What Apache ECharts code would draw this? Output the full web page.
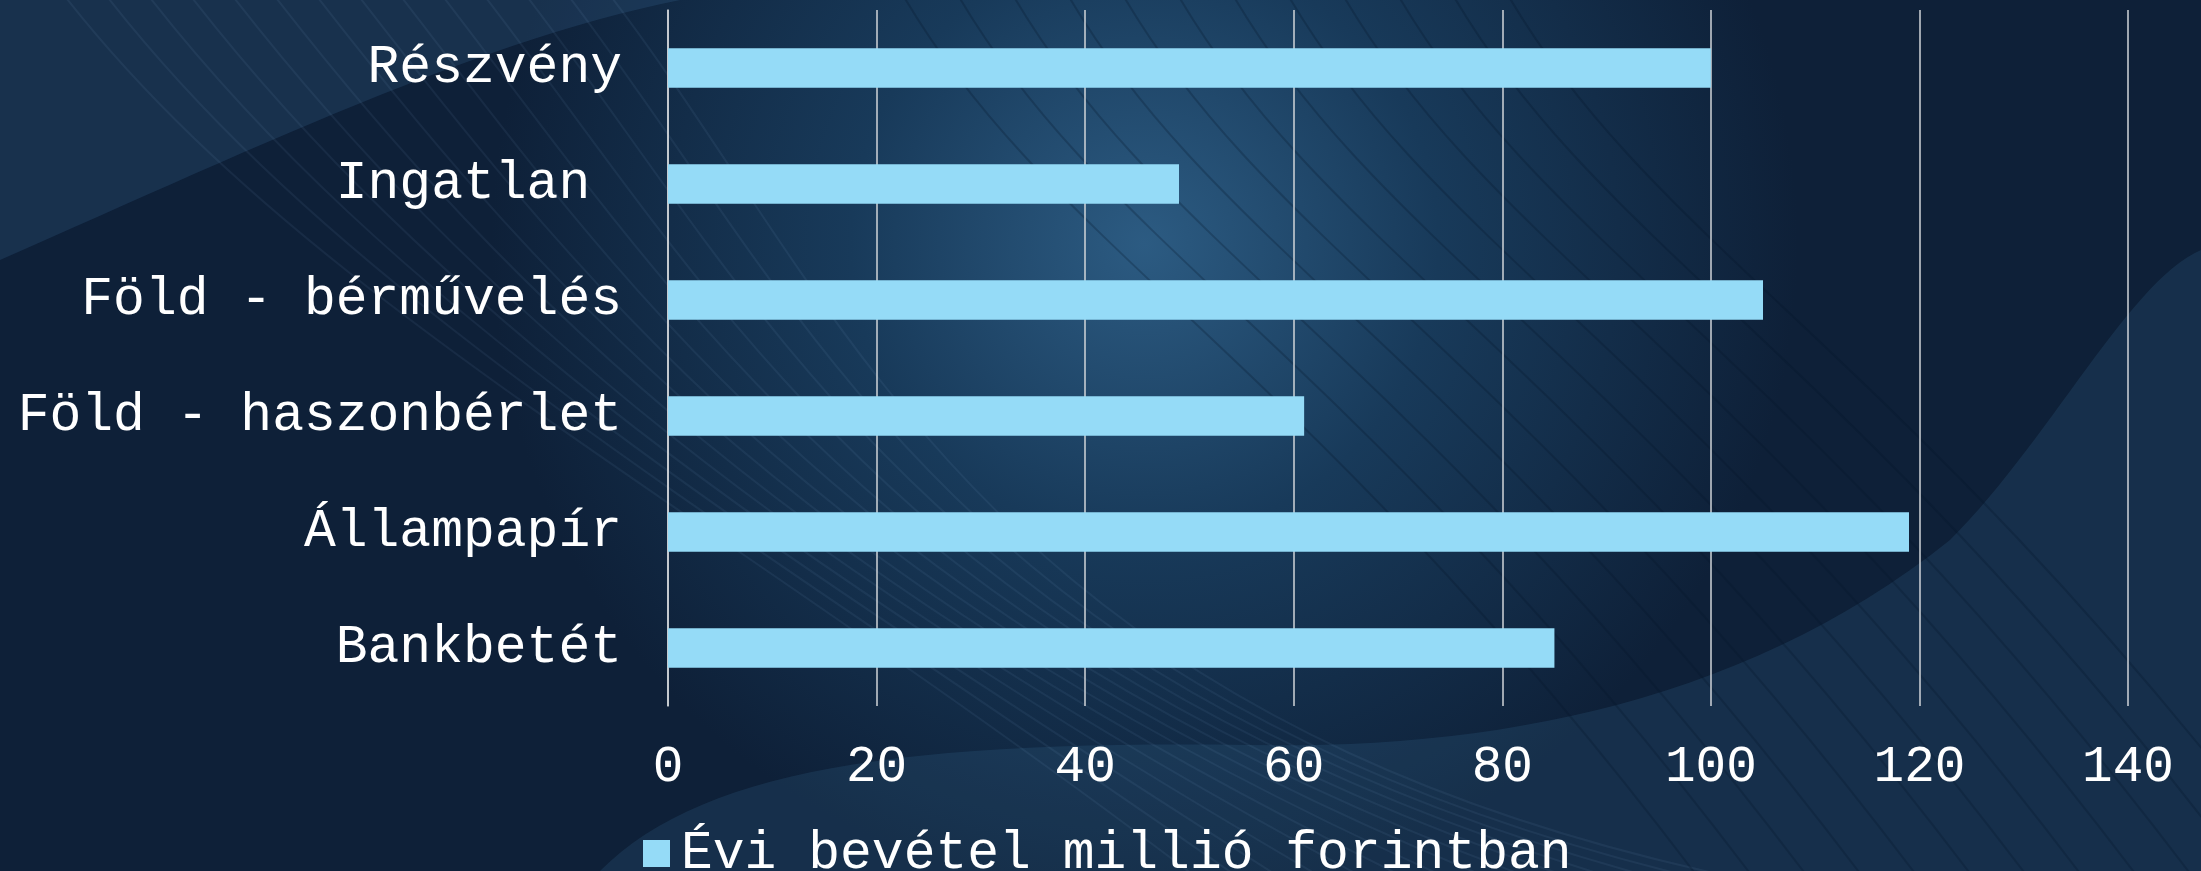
<!DOCTYPE html>
<html><head><meta charset="utf-8">
<script src="https://cdn.jsdelivr.net/npm/echarts@6/dist/echarts.min.js"></script>
<style>html,body{margin:0;padding:0;background:#10253d;}#c{width:2201px;height:871px;}</style>
</head><body><div id="c"></div>
<script>
const categories = ['Részvény', 'Ingatlan ', 'Föld - bérművelés', 'Föld - haszonbérlet', 'Állampapír', 'Bankbetét'];
const values = [100, 49, 105, 61, 119, 85];
const seriesName = 'Évi bevétel millió forintban';
const xTicks = { min: 0, max: 140, interval: 20 };

const chart = echarts.init(document.getElementById('c'), null, { renderer: 'canvas' });
const FONT = '"Liberation Mono", "Courier New", monospace';

// sample cubic bezier segments into polygon points (decorative background only)
function sampleCubic(p0, p1, p2, p3, n) {
  const pts = [];
  for (let i = 0; i <= n; i++) {
    const t = i / n, u = 1 - t;
    pts.push([
      u*u*u*p0[0] + 3*u*u*t*p1[0] + 3*u*t*t*p2[0] + t*t*t*p3[0],
      u*u*u*p0[1] + 3*u*u*t*p1[1] + 3*u*t*t*p2[1] + t*t*t*p3[1]
    ]);
  }
  return pts;
}
const topLeftShape = [[0,0],[680,0]].concat(sampleCubic([680,0],[480,40],[250,150],[0,260],30));
const bottomShape = sampleCubic([600,871],[700,770],[900,740],[1250,745],30)
  .concat(sampleCubic([1250,745],[1500,750],[1750,700],[1950,540],30))
  .concat(sampleCubic([1950,540],[2050,440],[2130,280],[2201,250],30))
  .concat([[2201,871]]);

const deco = [
  { type: 'polygon', silent: true, z: -10, shape: { points: topLeftShape }, style: { fill: 'rgba(70,130,175,0.18)' } },
  { type: 'polygon', silent: true, z: -10, shape: { points: bottomShape }, style: { fill: 'rgba(70,130,175,0.16)' } }
];
for (let i = 0; i < 14; i++) {
  const o = i * 42;
  deco.push({
    type: 'bezierCurve', silent: true, z: -9,
    shape: { x1: 60 + o, y1: -10, cpx1: 300 + o, cpy1: 300, cpx2: 700 + o * 0.5, cpy2: 500 + o * 0.4, x2: 1200 + o, y2: 880 },
    style: { stroke: 'rgba(160,200,235,0.07)', lineWidth: 2, fill: null }
  });
}
for (let i = 0; i < 12; i++) {
  const o = i * 55;
  deco.push({
    type: 'bezierCurve', silent: true, z: -9,
    shape: { x1: 900 + o, y1: -10, cpx1: 1050 + o, cpy1: 250, cpx2: 1300 + o, cpy2: 350, x2: 1700 + o, y2: 880 },
    style: { stroke: 'rgba(5,20,40,0.25)', lineWidth: 2, fill: null }
  });
}

chart.setOption({
  backgroundColor: {
    type: 'radial', x: 0.52, y: 0.28, r: 0.75,
    colorStops: [
      { offset: 0, color: '#2c5b82' },
      { offset: 0.45, color: '#183a5a' },
      { offset: 1, color: '#0e2038' }
    ]
  },
  graphic: deco,
  textStyle: { fontFamily: FONT },
  grid: { left: 668, right: 73, top: 10, bottom: 165, containLabel: false },
  legend: {
    data: [seriesName],
    left: 638, top: 822,
    icon: 'rect', itemWidth: 27, itemHeight: 27, itemGap: 8,
    textStyle: { color: '#ffffff', fontSize: 53, fontFamily: FONT, padding: [0, 0, 0, 6] }
  },
  xAxis: {
    type: 'value', min: xTicks.min, max: xTicks.max, interval: xTicks.interval,
    axisLine: { show: false }, axisTick: { show: false },
    splitLine: { show: true, lineStyle: { color: '#d0d4d8', width: 1.5 } },
    axisLabel: { color: '#ffffff', fontSize: 51, fontFamily: FONT, margin: 36 }
  },
  yAxis: {
    type: 'category', data: categories, inverse: true,
    axisLine: { show: true, lineStyle: { color: '#d0d4d8', width: 1.5 } },
    axisTick: { show: false },
    axisLabel: { color: '#ffffff', fontSize: 53, fontFamily: FONT, margin: 46 }
  },
  series: [{
    name: seriesName, type: 'bar', data: values,
    barWidth: '34%',
    itemStyle: { color: '#95dbf7' }
  }],
  animation: false
});
</script></body></html>
